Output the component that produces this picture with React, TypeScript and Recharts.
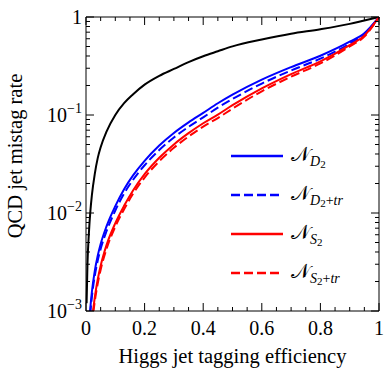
import React from 'react'
import { Legend, Line, LineChart, XAxis, YAxis } from 'recharts'

// Higgs jet tagging efficiency (shared grid for all curves)
const efficiency = [
  0.002, 0.005, 0.01, 0.015, 0.02, 0.03, 0.04, 0.05, 0.07, 0.1, 0.13, 0.16, 0.2,
  0.25, 0.3, 0.35, 0.4, 0.45, 0.5, 0.6, 0.7, 0.8, 0.9, 0.95, 1,
]

// QCD jet mistag rate
const mistagBaseline = [
  0.0012, 0.003, 0.0063, 0.0105, 0.0151, 0.0251, 0.0363, 0.0468, 0.0676, 0.1,
  0.132, 0.162, 0.204, 0.251, 0.295, 0.347, 0.398, 0.447, 0.501, 0.589, 0.676,
  0.75, 0.851, 0.923, 1,
]
const mistagD2 = [
  0.00009, 0.00028, 0.000659, 0.001089, 0.001556, 0.002564, 0.003664, 0.00483,
  0.00731, 0.01175, 0.0175, 0.02404, 0.03404, 0.04875, 0.06546, 0.08395, 0.105,
  0.1318, 0.1614, 0.2296, 0.3083, 0.4027, 0.56, 0.684, 1,
]
const mistagD2tr = [
  0.00008, 0.000249, 0.000587, 0.00097, 0.001386, 0.002285, 0.003265, 0.0043,
  0.00651, 0.0106, 0.01579, 0.02168, 0.0307, 0.04397, 0.05904, 0.07572, 0.0947,
  0.1189, 0.1456, 0.2094, 0.2846, 0.3757, 0.5348, 0.6655, 1,
]
const mistagS2 = [
  0.0000275, 0.0001035, 0.000282, 0.000507, 0.000769, 0.00138, 0.002094, 0.002891,
  0.0047, 0.00787, 0.01183, 0.0169, 0.02489, 0.03656, 0.05012, 0.06531, 0.08241,
  0.1009, 0.1259, 0.1871, 0.2618, 0.3532, 0.5176, 0.6457, 1,
]
const mistagS2tr = [
  0.0000251, 0.0000944, 0.000257, 0.000462, 0.000701, 0.001259, 0.00191, 0.002637,
  0.00429, 0.00726, 0.01092, 0.0156, 0.02297, 0.03375, 0.04626, 0.06028, 0.07606,
  0.09313, 0.1162, 0.1746, 0.2461, 0.3355, 0.5, 0.6309, 1,
]

const xTicks = [
  0, 0.05, 0.1, 0.15, 0.2, 0.25, 0.3, 0.35, 0.4, 0.45, 0.5, 0.55, 0.6, 0.65, 0.7,
  0.75, 0.8, 0.85, 0.9, 0.95, 1,
]
const xMajor = [0, 0.2, 0.4, 0.6, 0.8, 1]
const xLabels = ['0', '0.2', '0.4', '0.6', '0.8', '1']

const yMajor = [0.001, 0.01, 0.1, 1]
const yLabels = [
  ['10', '−3'],
  ['10', '−2'],
  ['10', '−1'],
  ['1', ''],
]
const yTicks: number[] = []
;[0.001, 0.01, 0.1].forEach((d) => {
  for (let k = 1; k < 10; k++) yTicks.push(d * k)
})
yTicks.push(1)

const data = efficiency.map((x, i) => ({
  x,
  base: mistagBaseline[i],
  d2: mistagD2[i],
  d2tr: mistagD2tr[i],
  s2: mistagS2[i],
  s2tr: mistagS2tr[i],
}))

const FONT = 'Liberation Serif, Times New Roman, DejaVu Serif, serif'
const txt = { fontFamily: FONT }

const near = (a: number, b: number) => Math.abs(a - b) < 1e-9 * Math.max(1, b)

const majorIndex = (v: number, list: number[]) => list.findIndex((m) => near(v, m))

const BottomTick = (props: any) => {
  const { x, y, payload } = props
  const idx = majorIndex(payload.value, xMajor)
  return (
    <g>
      <line x1={x} x2={x} y1={y} y2={y - (idx >= 0 ? 8 : 4)} stroke="#000" />
      {idx >= 0 && (
        <text x={x} y={y + 24} textAnchor="middle" style={txt} fontSize={20} fill="#000">
          {xLabels[idx]}
        </text>
      )}
    </g>
  )
}

const TopTick = (props: any) => {
  const { x, y, payload } = props
  const idx = majorIndex(payload.value, xMajor)
  return <line x1={x} x2={x} y1={y} y2={y + (idx >= 0 ? 8 : 4)} stroke="#000" />
}

const LeftTick = (props: any) => {
  const { x, y, payload } = props
  const idx = majorIndex(payload.value, yMajor)
  return (
    <g>
      <line x1={x} x2={x + (idx >= 0 ? 8 : 4)} y1={y} y2={y} stroke="#000" />
      {idx >= 0 && (
        <text x={x - 4} y={y + 7} textAnchor="end" style={txt} fontSize={20} fill="#000">
          {yLabels[idx][0]}
          {yLabels[idx][1] && (
            <tspan dy={-9} fontSize={14}>
              {yLabels[idx][1]}
            </tspan>
          )}
        </text>
      )}
    </g>
  )
}

const RightTick = (props: any) => {
  const { x, y, payload } = props
  const idx = majorIndex(payload.value, yMajor)
  return <line x1={x} x2={x - (idx >= 0 ? 8 : 4)} y1={y} y2={y} stroke="#000" />
}

const series = [
  { key: 'd2', color: '#0000ff', dash: undefined, sub: 'D', subsub: '2', extra: '' },
  { key: 'd2tr', color: '#0000ff', dash: '9 4', sub: 'D', subsub: '2', extra: 'tr' },
  { key: 's2', color: '#ff0000', dash: undefined, sub: 'S', subsub: '2', extra: '' },
  { key: 's2tr', color: '#ff0000', dash: '9 4', sub: 'S', subsub: '2', extra: 'tr' },
]

const LegendBox = () => (
  <div style={{ fontFamily: FONT, color: '#000' }}>
    {series.map((s) => (
      <div key={s.key} style={{ display: 'flex', alignItems: 'center', height: 39 }}>
        <svg width={52} height={6} style={{ display: 'block' }}>
          <line x1={0} x2={52} y1={3} y2={3} stroke={s.color} strokeWidth={2.5} strokeDasharray={s.dash} />
        </svg>
        <span style={{ marginLeft: 8, fontSize: 20, lineHeight: '20px', whiteSpace: 'nowrap' }}>
          <span>𝒩</span>
          <span style={{ fontSize: 14, position: 'relative', top: 5 }}>
            <i>{s.sub}</i>
            <span style={{ fontSize: 11, position: 'relative', top: 2 }}>{s.subsub}</span>
            {s.extra && (
              <>
                +<i>{s.extra}</i>
              </>
            )}
          </span>
        </span>
      </div>
    ))}
  </div>
)

export default function App() {
  return (
    <div style={{ position: 'absolute', left: 0, top: 0, background: '#fff' }}>
      <LineChart width={384} height={375} data={data} margin={{ top: 0, right: 0, bottom: 0, left: 0 }}>
        <XAxis
          xAxisId="bottom"
          dataKey="x"
          type="number"
          domain={[0, 1]}
          ticks={xTicks}
          interval={0}
          height={64}
          tickSize={0}
          tickMargin={0}
          tickLine={false}
          axisLine={{ stroke: '#000' }}
          tick={<BottomTick />}
          label={{
            content: (p: any) => (
              <text
                x={p.viewBox.x + p.viewBox.width / 2}
                y={p.viewBox.y + 52}
                textAnchor="middle"
                style={txt}
                fontSize={20.5}
                fill="#000"
              >
                Higgs jet tagging efficiency
              </text>
            ),
          }}
        />
        <XAxis
          xAxisId="top"
          orientation="top"
          dataKey="x"
          type="number"
          domain={[0, 1]}
          ticks={xTicks}
          interval={0}
          height={17}
          tickSize={0}
          tickMargin={0}
          tickLine={false}
          axisLine={{ stroke: '#000' }}
          tick={<TopTick />}
        />
        <YAxis
          yAxisId="left"
          scale="log"
          type="number"
          domain={[0.001, 1]}
          allowDataOverflow
          ticks={yTicks}
          interval={0}
          width={86}
          tickSize={0}
          tickMargin={0}
          tickLine={false}
          axisLine={{ stroke: '#000' }}
          tick={<LeftTick />}
          label={{
            content: () => (
              <text
                x={22}
                y={156}
                transform="rotate(-90, 22, 156)"
                textAnchor="middle"
                style={txt}
                fontSize={20.5}
                fill="#000"
              >
                QCD jet mistag rate
              </text>
            ),
          }}
        />
        <YAxis
          yAxisId="right"
          orientation="right"
          scale="log"
          type="number"
          domain={[0.001, 1]}
          allowDataOverflow
          ticks={yTicks}
          interval={0}
          width={5}
          tickSize={0}
          tickMargin={0}
          tickLine={false}
          axisLine={{ stroke: '#000' }}
          tick={<RightTick />}
        />
        <Line
          xAxisId="bottom"
          yAxisId="left"
          dataKey="base"
          stroke="#000"
          strokeWidth={2}
          dot={false}
          type="monotone"
          isAnimationActive={false}
          legendType="none"
        />
        {series.map((s) => (
          <Line
            key={s.key}
            xAxisId="bottom"
            yAxisId="left"
            dataKey={s.key}
            stroke={s.color}
            strokeWidth={2}
            strokeDasharray={s.dash}
            dot={false}
            type="monotone"
            isAnimationActive={false}
          />
        ))}
        <Legend
          layout="vertical"
          align="center"
          verticalAlign="middle"
          content={() => <LegendBox />}
          wrapperStyle={{ position: 'absolute', left: 231, top: 136, width: 150 }}
        />
      </LineChart>
    </div>
  )
}
